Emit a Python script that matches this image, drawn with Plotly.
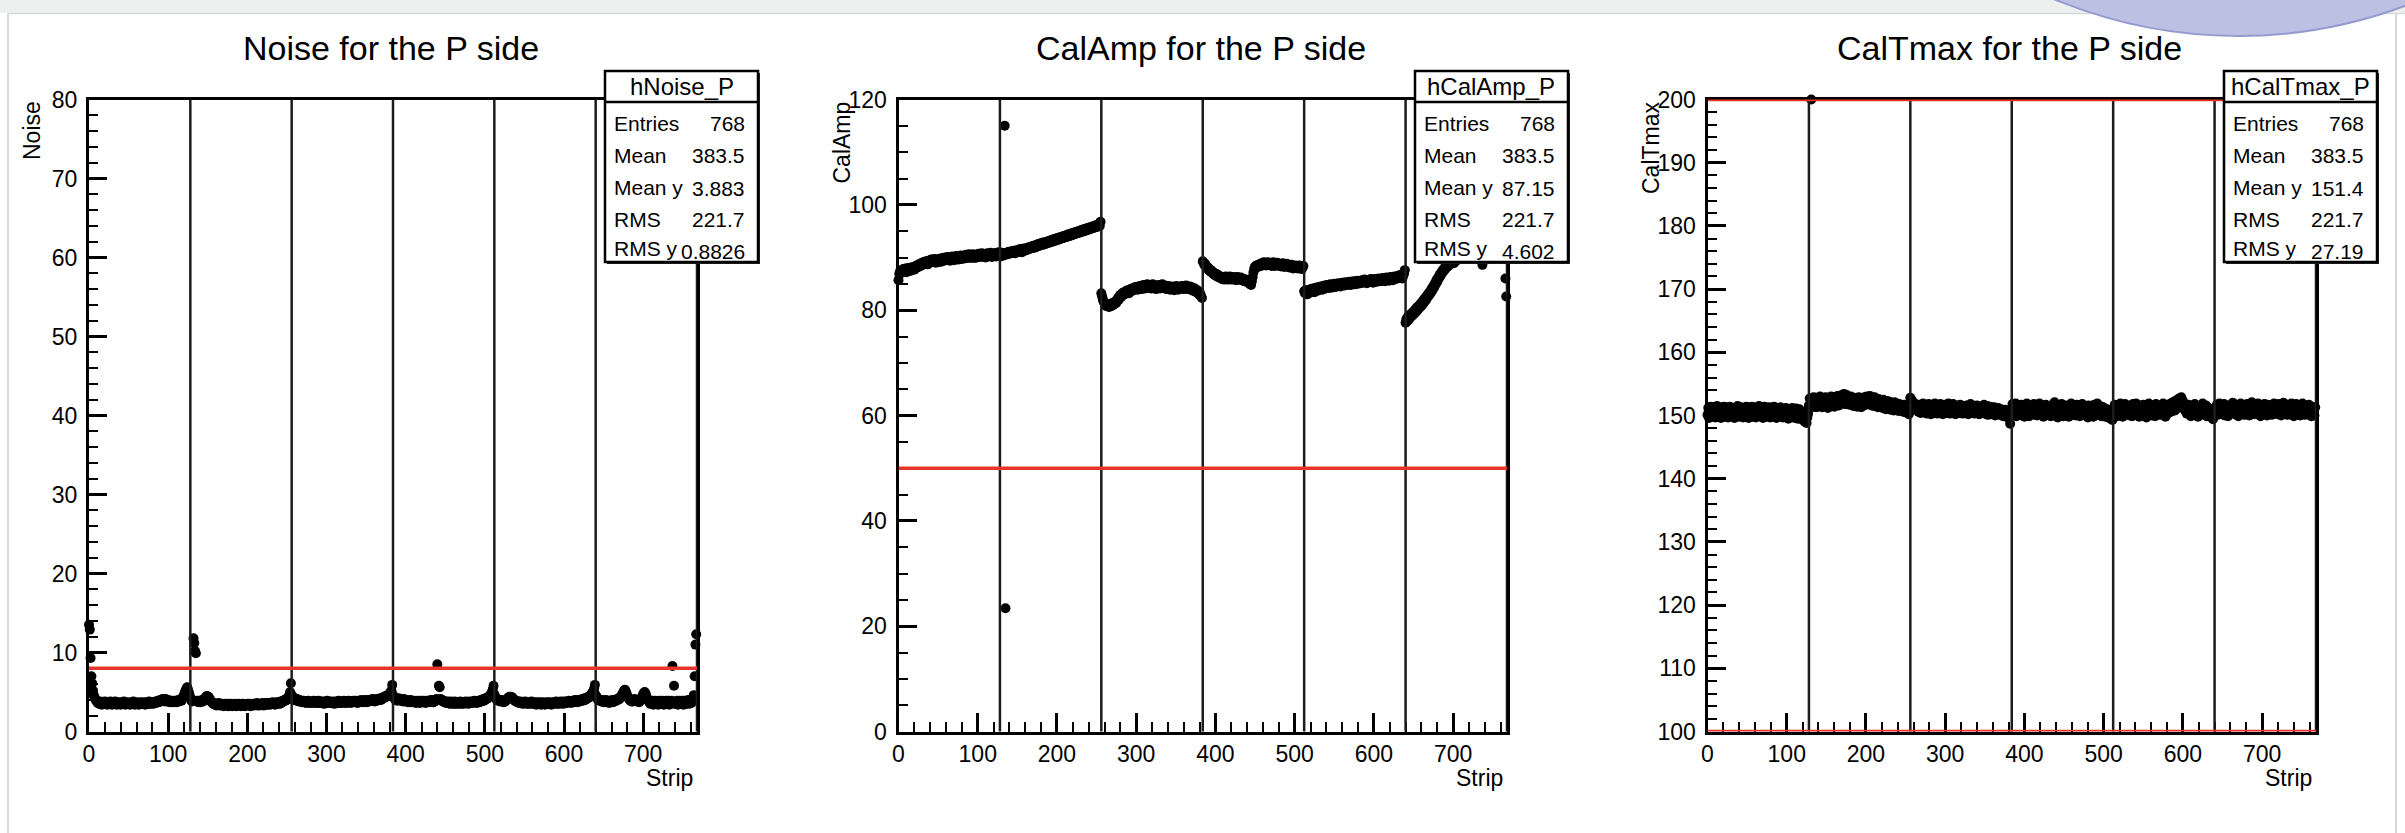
import plotly.graph_objects as go

W, H = 2405, 833
FONT = "Liberation Sans, Arial, Helvetica, sans-serif"

# ---------------------------------------------------------------- data
strips = list(range(768))
chip_edges = [128, 256, 384, 512, 640, 768]

noise = [
    # chip 1
    13.5, 12.9, 9.3, 7.0, 6.1, 5.2, 4.6, 4.3, 4.1, 3.9,
    3.8, 3.6, 3.7, 3.5, 3.8, 3.6, 3.4, 3.7, 3.5, 3.6,
    3.8, 3.5, 3.6, 3.4, 3.7, 3.6, 3.5, 3.8, 3.6, 3.4,
    3.7, 3.5, 3.6, 3.8, 3.5, 3.4, 3.6, 3.7, 3.5, 3.6,
    3.4, 3.7, 3.6, 3.5, 3.8, 3.6, 3.4, 3.5, 3.7, 3.6,
    3.5, 3.6, 3.4, 3.7, 3.5, 3.6, 3.8, 3.5, 3.4, 3.6,
    3.7, 3.5, 3.6, 3.4, 3.6, 3.7, 3.5, 3.6, 3.5, 3.7,
    3.6, 3.4, 3.5, 3.7, 3.6, 3.5, 3.8, 3.6, 3.5, 3.7,
    3.6, 3.5, 3.7, 3.6, 3.8, 3.6, 3.7, 3.9, 3.7, 3.8,
    4.0, 3.8, 3.9, 4.1, 3.9, 4.0, 3.8, 4.1, 3.9, 3.8,
    4.0, 3.9, 3.7, 3.9, 3.8, 3.7, 3.9, 3.8, 3.7, 3.9,
    3.8, 3.7, 3.9, 4.0, 3.8, 4.0, 4.1, 3.9, 4.2, 4.4,
    4.6, 4.9, 5.2, 5.4, 5.6, 5.3, 5.0, 4.6,
    # chip 2
    4.3, 4.0, 3.8, 3.9, 11.8, 11.2, 10.2, 9.9, 3.9, 3.8,
    3.7, 3.9, 3.8, 3.7, 3.9, 4.0, 3.8, 3.9, 4.1, 4.3,
    4.4, 4.5, 4.3, 4.4, 4.2, 4.0, 3.8, 3.7, 3.6, 3.5,
    3.6, 3.4, 3.5, 3.3, 3.5, 3.4, 3.6, 3.3, 3.4, 3.5,
    3.3, 3.4, 3.2, 3.5, 3.3, 3.4, 3.3, 3.5, 3.2, 3.4,
    3.3, 3.5, 3.4, 3.2, 3.3, 3.4, 3.5, 3.3, 3.2, 3.4,
    3.3, 3.5, 3.4, 3.3, 3.2, 3.4, 3.5, 3.3, 3.4, 3.2,
    3.4, 3.3, 3.5, 3.4, 3.3, 3.5, 3.2, 3.4, 3.3, 3.5,
    3.4, 3.3, 3.5, 3.4, 3.6, 3.3, 3.5, 3.4, 3.3, 3.5,
    3.4, 3.6, 3.5, 3.3, 3.5, 3.4, 3.6, 3.5, 3.4, 3.6,
    3.5, 3.4, 3.6, 3.5, 3.7, 3.5, 3.6, 3.4, 3.6, 3.7,
    3.5, 3.6, 3.7, 3.5, 3.8, 3.6, 3.7, 3.9, 3.8, 4.0,
    3.9, 4.1, 4.0, 4.2, 4.3, 4.6, 5.0, 6.1,
    # chip 3
    4.6, 4.3, 4.1, 4.0, 4.2, 4.0, 3.9, 4.1, 3.9, 3.8,
    4.0, 3.8, 3.9, 3.7, 3.8, 3.9, 3.7, 3.8, 3.6, 3.8,
    3.7, 3.9, 3.6, 3.8, 3.7, 3.6, 3.8, 3.7, 3.9, 3.6,
    3.7, 3.8, 3.6, 3.7, 3.9, 3.6, 3.8, 3.7, 3.6, 3.8,
    3.7, 3.5, 3.8, 3.6, 3.7, 3.9, 3.6, 3.7, 3.8, 3.6,
    3.7, 3.6, 3.8, 3.7, 3.5, 3.7, 3.8, 3.6, 3.7, 3.9,
    3.6, 3.8, 3.7, 3.6, 3.8, 3.7, 3.9, 3.6, 3.7, 3.8,
    3.6, 3.7, 3.9, 3.7, 3.8, 3.6, 3.8, 3.7, 3.9, 3.8,
    3.7, 3.9, 3.8, 3.6, 3.8, 3.9, 3.7, 3.8, 4.0, 3.8,
    3.7, 3.9, 3.8, 4.0, 3.9, 3.7, 3.9, 4.0, 3.8, 3.9,
    4.0, 3.9, 4.1, 3.9, 4.0, 3.8, 4.0, 4.1, 3.9, 4.0,
    4.1, 4.0, 4.2, 4.0, 4.1, 4.3, 4.2, 4.4, 4.3, 4.5,
    4.4, 4.6, 4.5, 4.7, 4.8, 5.0, 5.2, 5.9,
    # chip 4
    4.6, 4.3, 4.2, 4.0, 4.1, 3.9, 4.0, 4.2, 4.0, 3.9,
    4.1, 3.9, 4.0, 3.8, 4.1, 3.9, 3.8, 4.0, 3.9, 3.7,
    3.9, 3.8, 4.0, 3.7, 3.9, 3.8, 3.7, 3.9, 3.8, 3.6,
    3.8, 3.9, 3.7, 3.8, 3.6, 3.9, 3.7, 3.8, 3.9, 3.7,
    3.8, 3.6, 3.9, 3.7, 3.8, 3.9, 3.7, 3.8, 4.0, 3.8,
    3.9, 3.7, 4.0, 3.8, 3.9, 4.1, 8.5, 4.0, 5.8, 5.6,
    4.1, 3.9, 4.0, 3.8, 3.9, 3.7, 3.8, 3.6, 3.7, 3.8,
    3.6, 3.7, 3.5, 3.8, 3.6, 3.7, 3.5, 3.6, 3.8, 3.5,
    3.7, 3.6, 3.5, 3.7, 3.6, 3.8, 3.5, 3.7, 3.6, 3.5,
    3.7, 3.6, 3.8, 3.6, 3.7, 3.5, 3.6, 3.8, 3.7, 3.6,
    3.8, 3.6, 3.7, 3.9, 3.7, 3.8, 3.6, 3.8, 3.9, 3.7,
    3.8, 4.0, 3.8, 3.9, 4.1, 3.9, 4.0, 4.2, 4.1, 4.3,
    4.2, 4.4, 4.5, 4.6, 4.8, 5.0, 5.3, 5.8,
    # chip 5
    4.7, 4.4, 4.2, 4.0, 4.1, 3.9, 4.0, 3.8, 3.9, 4.0,
    3.8, 3.9, 3.7, 3.9, 3.8, 4.0, 4.1, 4.2, 4.3, 4.4,
    4.3, 4.4, 4.2, 4.3, 4.1, 4.0, 3.9, 3.8, 3.9, 3.7,
    3.8, 3.6, 3.7, 3.8, 3.6, 3.7, 3.5, 3.7, 3.6, 3.8,
    3.6, 3.5, 3.7, 3.6, 3.5, 3.7, 3.6, 3.8, 3.5, 3.6,
    3.7, 3.5, 3.6, 3.4, 3.7, 3.6, 3.5, 3.7, 3.6, 3.4,
    3.6, 3.7, 3.5, 3.6, 3.4, 3.6, 3.7, 3.5, 3.6, 3.7,
    3.5, 3.6, 3.4, 3.7, 3.6, 3.5, 3.7, 3.6, 3.8, 3.5,
    3.7, 3.6, 3.5, 3.7, 3.8, 3.6, 3.7, 3.5, 3.8, 3.6,
    3.7, 3.8, 3.6, 3.7, 3.9, 3.7, 3.8, 3.6, 3.8, 3.9,
    3.7, 3.8, 4.0, 3.8, 3.9, 3.7, 4.0, 3.9, 3.8, 4.0,
    3.9, 4.1, 3.9, 4.0, 4.2, 4.0, 4.1, 4.3, 4.2, 4.4,
    4.3, 4.5, 4.6, 4.8, 4.9, 5.1, 5.4, 5.9,
    # chip 6
    4.6, 4.4, 4.2, 4.0, 4.1, 3.9, 4.0, 3.8, 4.0, 3.9,
    3.7, 3.9, 3.8, 4.0, 3.7, 3.9, 3.8, 3.6, 3.9, 3.7,
    3.8, 4.0, 3.7, 3.9, 3.8, 4.0, 3.9, 4.1, 4.0, 4.2,
    4.1, 4.3, 4.4, 4.6, 4.8, 5.0, 5.2, 5.3, 5.1, 4.8,
    4.5, 4.3, 4.1, 4.0, 3.9, 3.8, 4.0, 3.8, 3.9, 4.1,
    4.0, 3.9, 3.8, 4.0, 3.9, 3.7, 3.9, 4.1, 4.3, 4.5,
    4.7, 4.9, 5.0, 4.8, 4.5, 4.2, 4.0, 3.8, 3.7, 3.5,
    3.8, 3.6, 3.9, 3.4, 3.7, 3.9, 3.5, 3.8, 3.6, 3.4,
    3.9, 3.6, 3.8, 3.5, 3.9, 3.7, 3.4, 3.8, 3.6, 3.9,
    3.5, 3.7, 3.9, 3.4, 3.8, 3.6, 3.9, 8.3, 3.7, 5.8,
    3.5, 3.8, 3.6, 3.9, 3.4, 3.7, 3.9, 3.5, 3.8, 3.6,
    3.9, 3.4, 3.7, 3.9, 3.5, 3.8, 3.6, 4.0, 3.5, 3.8,
    3.9, 3.6, 4.0, 4.2, 4.6, 7.0, 11.0, 12.3,
]

cal_amp = [
    # chip 1
    85.7, 86.9, 87.4, 87.0, 87.6, 87.2, 87.8, 87.3, 87.5, 87.9,
    87.2, 87.6, 88.0, 87.4, 87.8, 87.5, 88.1, 87.6, 87.9, 88.2,
    87.7, 88.3, 88.0, 88.5, 88.1, 88.6, 88.3, 88.8, 88.4, 88.9,
    88.6, 89.1, 88.7, 89.2, 88.8, 89.3, 89.0, 88.7, 89.4, 89.0,
    89.3, 89.6, 89.1, 89.5, 89.2, 89.7, 89.3, 89.0, 89.6, 89.4,
    89.1, 89.7, 89.4, 89.8, 89.2, 89.6, 89.9, 89.4, 89.7, 90.0,
    89.5, 89.8, 90.1, 89.6, 89.9, 89.4, 90.0, 89.7, 90.2, 89.8,
    89.5, 90.1, 89.8, 90.3, 89.9, 89.6, 90.2, 89.8, 90.0, 90.4,
    89.7, 90.1, 90.3, 89.8, 90.2, 90.5, 89.9, 90.3, 90.0, 90.6,
    90.2, 89.9, 90.4, 90.1, 90.6, 90.2, 89.9, 90.5, 90.3, 90.0,
    90.4, 90.7, 90.1, 90.5, 90.2, 90.8, 90.4, 90.1, 90.6, 90.3,
    90.0, 90.5, 90.8, 90.2, 90.6, 90.3, 90.9, 90.4, 90.1, 90.7,
    90.3, 90.8, 90.5, 90.2, 90.9, 90.4, 90.7, 91.0,
    # chip 2
    90.6, 90.2, 90.9, 90.5, 90.8, 90.4, 115.0, 23.4, 90.9, 90.6,
    90.9, 91.1, 90.7, 91.0, 90.8, 91.2, 90.9, 91.3, 91.0, 90.8,
    91.2, 91.4, 91.0, 91.3, 91.5, 91.1, 91.6, 91.3, 91.0, 91.5,
    91.7, 91.3, 91.6, 91.4, 91.8, 91.5, 91.9, 91.6, 92.0, 91.7,
    91.9, 92.2, 91.8, 92.1, 92.3, 91.9, 92.4, 92.1, 92.5, 92.2,
    92.6, 92.3, 92.5, 92.8, 92.4, 92.7, 92.9, 92.5, 92.8, 93.0,
    92.7, 93.1, 92.8, 93.2, 92.9, 93.3, 93.0, 93.4, 93.1, 93.5,
    93.2, 93.6, 93.3, 93.7, 93.4, 93.8, 93.5, 93.9, 93.6, 94.0,
    93.7, 94.1, 93.8, 94.2, 93.9, 94.3, 94.0, 94.4, 94.1, 94.5,
    94.2, 94.6, 94.3, 94.7, 94.4, 94.8, 94.5, 94.9, 94.6, 95.0,
    94.7, 95.1, 94.8, 95.2, 94.9, 95.3, 95.0, 95.4, 95.1, 95.5,
    95.2, 95.6, 95.3, 95.7, 95.4, 95.8, 95.5, 95.9, 95.6, 96.0,
    95.7, 96.1, 95.8, 96.2, 95.9, 96.4, 96.0, 96.8,
    # chip 3
    83.2, 82.6, 82.0, 81.6, 81.3, 81.0, 80.8, 81.1, 80.7, 80.9,
    80.6, 80.9, 81.2, 80.8, 81.3, 81.0, 81.5, 81.2, 81.7, 81.4,
    81.9, 82.3, 82.0, 82.6, 82.9, 82.5, 83.0, 83.3, 82.9, 83.4,
    83.1, 83.6, 83.3, 83.8, 83.5, 83.2, 83.7, 84.0, 83.6, 83.9,
    84.2, 83.8, 84.1, 84.4, 84.0, 84.3, 83.9, 84.5, 84.2, 84.6,
    84.3, 84.0, 84.5, 84.8, 84.4, 84.1, 84.7, 84.3, 84.9, 84.5,
    84.2, 84.8, 84.4, 84.1, 84.6, 84.9, 84.3, 84.7, 84.4, 84.0,
    84.5, 84.2, 84.8, 84.4, 84.1, 84.6, 84.3, 84.9, 84.5, 84.2,
    84.7, 84.3, 84.0, 84.5, 84.2, 84.6, 84.3, 83.9, 84.4, 84.1,
    84.5, 84.2, 83.8, 84.3, 84.0, 84.6, 84.2, 83.9, 84.4, 84.1,
    84.5, 84.2, 84.6, 84.3, 84.0, 84.5, 84.2, 84.7, 84.3, 84.0,
    84.4, 84.1, 84.5, 84.2, 83.8, 84.3, 84.0, 83.6, 84.1, 83.7,
    83.4, 83.8, 83.2, 83.5, 82.9, 83.1, 82.6, 82.3,
    # chip 4
    89.3, 89.0, 88.6, 88.8, 88.3, 88.0, 88.2, 87.7, 87.9, 87.4,
    87.6, 87.2, 87.4, 86.9, 87.1, 86.7, 86.9, 86.5, 86.8, 86.3,
    86.6, 86.2, 86.4, 86.0, 86.3, 85.9, 86.2, 85.8, 86.1, 86.4,
    85.9, 86.2, 85.8, 86.1, 86.4, 85.9, 86.2, 85.8, 86.0, 86.3,
    85.9, 86.2, 85.7, 86.0, 86.3, 85.8, 86.1, 85.9, 86.2, 85.7,
    86.0, 85.6, 85.9, 85.5, 85.8, 85.4, 85.7, 85.3, 85.6, 85.0,
    85.3, 84.8, 85.5, 86.3, 87.2, 87.9, 88.3, 88.0, 88.5, 88.2,
    88.6, 88.3, 88.7, 88.4, 88.9, 88.5, 88.8, 89.1, 88.6, 88.9,
    88.5, 88.8, 89.1, 88.7, 89.0, 88.6, 88.9, 88.4, 88.8, 89.1,
    88.7, 88.4, 88.9, 88.6, 89.0, 88.5, 88.8, 88.4, 88.7, 88.3,
    88.6, 88.9, 88.5, 88.2, 88.7, 88.4, 88.8, 88.3, 88.6, 88.1,
    88.5, 88.2, 88.6, 88.3, 87.9, 88.4, 88.1, 88.5, 88.0, 88.3,
    87.9, 88.2, 88.5, 88.0, 88.3, 87.8, 88.1, 88.4,
    # chip 5
    83.6, 83.2, 83.8, 83.4, 83.0, 83.5, 83.9, 83.3, 83.7, 84.0,
    83.6, 84.1, 83.8, 83.4, 84.2, 83.9, 84.3, 83.7, 84.1, 84.4,
    84.0, 84.5, 84.2, 83.9, 84.6, 84.3, 84.7, 84.1, 84.5, 84.8,
    84.4, 84.7, 84.2, 84.9, 84.5, 84.8, 84.3, 84.6, 85.0, 84.7,
    84.4, 84.9, 84.6, 85.1, 84.7, 85.0, 84.5, 84.9, 85.2, 84.8,
    85.1, 84.7, 85.3, 84.9, 85.2, 84.8, 85.0, 85.4, 85.1, 84.8,
    85.3, 85.0, 85.5, 85.1, 84.9, 85.4, 85.2, 85.6, 85.0, 85.3,
    85.5, 85.1, 85.4, 85.7, 85.2, 85.5, 85.8, 85.3, 85.6, 85.1,
    85.4, 85.7, 85.3, 85.6, 85.9, 85.4, 85.7, 85.2, 85.6, 85.9,
    85.5, 85.8, 85.4, 85.7, 86.0, 85.6, 85.9, 85.5, 85.8, 86.1,
    85.7, 86.0, 85.5, 85.9, 86.2, 85.8, 86.1, 85.6, 86.0, 86.3,
    85.9, 86.2, 85.7, 86.1, 86.4, 85.9, 86.3, 86.0, 86.5, 86.1,
    86.4, 86.7, 86.2, 86.5, 86.0, 86.6, 86.9, 87.6,
    # chip 6
    77.6, 78.3, 77.9, 78.8, 78.2, 79.0, 78.6, 79.3, 78.9, 79.6,
    79.2, 79.9, 79.5, 80.3, 79.8, 80.6, 80.2, 80.9, 80.5, 81.2,
    80.8, 81.6, 81.2, 82.0, 81.6, 82.4, 82.0, 82.8, 82.5, 83.2,
    82.9, 83.6, 83.3, 84.1, 83.8, 84.6, 84.3, 85.1, 84.9, 85.7,
    85.4, 86.2, 86.0, 86.7, 86.5, 87.2, 87.0, 87.6, 87.4, 88.0,
    87.8, 88.3, 88.1, 88.6, 88.4, 88.9, 88.7, 89.2, 88.9, 89.4,
    89.1, 88.9, 89.6, 89.3, 89.8, 89.5, 90.0, 89.7, 90.2, 89.9,
    90.3, 90.0, 90.5, 90.2, 90.6, 90.3, 90.8, 90.4, 90.9, 90.6,
    91.0, 90.7, 91.1, 90.8, 91.2, 90.9, 91.3, 91.0, 91.4, 91.1,
    91.5, 91.2, 91.6, 91.3, 91.0, 91.5, 91.2, 88.6, 91.4, 91.7,
    91.3, 91.8, 91.5, 91.9, 91.6, 92.0, 91.7, 92.1, 91.8, 92.2,
    91.9, 92.3, 92.0, 92.4, 92.1, 92.5, 92.2, 92.6, 92.3, 92.7,
    92.4, 92.8, 92.5, 92.9, 92.6, 93.0, 86.0, 82.6,
]

cal_tmax = [
    # chip 1
    150.1, 151.2, 149.6, 150.7, 151.4, 150.0, 149.8, 150.9, 151.3, 150.4,
    149.7, 150.6, 151.5, 150.2, 149.9, 151.0, 150.5, 149.6, 151.3, 150.8,
    150.0, 151.4, 149.8, 150.5, 151.1, 150.3, 149.7, 150.9, 151.4, 150.1,
    150.6, 149.9, 151.2, 150.4, 149.6, 151.0, 150.7, 150.0, 151.5, 150.3,
    149.8, 150.8, 151.3, 150.1, 150.6, 149.7, 151.1, 150.4, 149.9, 151.4,
    150.2, 150.9, 149.6, 151.2, 150.5, 150.0, 151.4, 149.8, 150.7, 151.0,
    150.3, 149.7, 151.3, 150.6, 150.0, 151.5, 149.9, 150.8, 151.1, 150.2,
    149.6, 150.9, 151.4, 150.3, 149.8, 151.0, 150.5, 150.1, 151.3, 149.7,
    150.6, 151.2, 150.0, 149.8, 151.4, 150.4, 150.9, 149.6, 151.1, 150.3,
    150.7, 149.9, 151.3, 150.2, 150.8, 149.7, 151.0, 150.5, 149.9, 151.2,
    150.1, 150.6, 149.5, 151.0, 150.3, 149.8, 150.9, 151.2, 149.7, 150.4,
    150.8, 149.6, 151.1, 150.2, 149.5, 150.7, 151.0, 149.8, 150.3, 149.4,
    150.6, 149.2, 150.2, 149.0, 150.4, 148.8, 149.7, 150.3,
    # chip 2
    151.6, 152.7, 151.2, 200.0, 152.4, 151.5, 152.9, 151.9, 152.3, 151.3,
    152.8, 152.0, 151.4, 152.6, 153.0, 151.8, 152.2, 151.3, 152.7, 152.1,
    151.5, 152.9, 151.9, 152.4, 151.2, 152.8, 152.0, 151.6, 153.0, 152.3,
    151.7, 152.5, 151.4, 152.9, 152.2, 151.8, 153.1, 152.4, 151.6, 152.7,
    152.1, 153.2, 151.9, 152.6, 153.4, 152.2, 151.8, 153.3, 152.5, 152.0,
    152.9, 151.7, 152.4, 153.0, 151.9, 152.5, 151.5, 152.8, 152.2, 151.6,
    152.6, 151.4, 152.2, 152.9, 151.8, 152.4, 151.3, 152.7, 152.0, 151.6,
    152.9, 152.2, 151.7, 153.0, 152.4, 151.8, 152.7, 153.1, 152.0, 151.6,
    152.8, 152.3, 151.5, 152.9, 152.1, 151.7, 152.5, 151.3, 152.6, 152.0,
    151.4, 152.4, 151.8, 151.2, 152.5, 151.6, 152.1, 151.0, 152.3, 151.7,
    151.2, 152.2, 151.5, 150.9, 152.0, 151.4, 151.8, 150.8, 152.1, 151.3,
    150.9, 151.9, 151.2, 150.7, 151.8, 151.4, 150.8, 151.6, 151.1, 150.6,
    151.7, 151.0, 150.5, 151.5, 150.9, 151.3, 150.2, 150.8,
    # chip 3
    152.8, 151.9, 152.4, 151.5, 152.0, 151.2, 151.8, 150.9, 151.6, 151.1,
    150.6, 151.7, 151.2, 150.4, 151.5, 150.8, 151.9, 150.5, 151.3, 150.9,
    151.6, 150.3, 151.1, 151.8, 150.6, 151.4, 150.2, 151.7, 150.9, 151.3,
    150.5, 151.9, 150.8, 151.2, 150.3, 151.6, 151.0, 150.4, 151.8, 150.7,
    151.3, 150.2, 151.5, 150.9, 151.7, 150.4, 151.1, 150.6, 151.9, 150.8,
    150.3, 151.4, 151.0, 150.5, 151.8, 150.7, 151.2, 150.2, 151.6, 150.9,
    151.4, 150.4, 151.1, 151.7, 150.6, 151.3, 150.3, 151.5, 150.8, 151.0,
    150.5, 151.6, 150.9, 150.2, 151.4, 150.7, 151.8, 150.4, 151.1, 150.6,
    151.5, 150.3, 151.2, 150.8, 151.6, 150.5, 151.0, 150.2, 151.4, 150.9,
    150.4, 151.3, 150.7, 151.7, 150.3, 151.1, 150.6, 151.5, 150.1, 151.0,
    150.7, 151.4, 150.2, 151.2, 150.5, 150.9, 151.3, 150.0, 151.1, 150.6,
    150.3, 151.2, 150.8, 150.1, 151.0, 150.4, 150.9, 149.9, 150.7, 150.3,
    150.9, 149.8, 150.5, 150.1, 149.6, 150.4, 148.7, 149.9,
    # chip 4
    150.9, 151.8, 150.3, 151.2, 150.6, 151.9, 149.9, 150.8, 151.5, 150.2,
    151.1, 150.5, 151.7, 150.0, 151.4, 150.7, 149.8, 151.2, 150.4, 151.9,
    150.6, 151.3, 149.9, 150.9, 151.6, 150.2, 151.0, 150.5, 151.8, 150.1,
    151.4, 150.7, 150.0, 151.2, 150.4, 151.9, 150.8, 150.2, 151.5, 150.6,
    149.8, 151.1, 150.5, 151.7, 150.1, 150.9, 151.4, 150.3, 151.0, 149.9,
    151.6, 150.6, 151.2, 150.0, 152.1, 150.8, 151.3, 150.4, 149.7, 151.5,
    150.7, 151.0, 150.1, 151.8, 150.5, 149.9, 151.3, 150.8, 151.6, 150.2,
    150.9, 151.4, 149.8, 151.1, 150.4, 151.9, 150.6, 150.1, 151.5, 150.7,
    151.2, 150.0, 151.7, 150.3, 150.9, 151.4, 149.9, 151.1, 150.6, 151.8,
    150.2, 150.8, 151.5, 150.0, 151.2, 150.5, 149.7, 151.6, 150.9, 150.3,
    151.4, 150.6, 151.0, 149.8, 151.7, 150.4, 151.1, 150.1, 151.9, 150.7,
    150.2, 151.3, 150.6, 149.9, 151.4, 150.8, 150.3, 151.2, 149.8, 150.9,
    151.0, 150.4, 149.7, 150.8, 150.2, 149.5, 150.6, 149.3,
    # chip 5
    151.0, 150.3, 151.7, 150.6, 151.2, 149.9, 151.5, 150.8, 150.2, 151.9,
    150.5, 151.1, 149.8, 151.4, 150.7, 151.8, 150.1, 150.9, 151.6, 150.4,
    151.2, 150.0, 151.5, 150.6, 149.9, 151.8, 150.3, 151.1, 150.7, 151.9,
    150.2, 151.3, 150.5, 149.8, 151.6, 150.9, 151.2, 150.1, 151.7, 150.4,
    150.8, 151.5, 149.7, 151.0, 150.6, 151.9, 150.3, 150.9, 151.4, 150.0,
    151.6, 150.5, 151.1, 149.9, 151.8, 150.7, 150.2, 151.3, 150.8, 151.5,
    150.1, 151.0, 150.6, 151.9, 150.3, 151.4, 149.8, 151.2, 150.7, 151.7,
    150.4, 151.1, 151.8, 150.6, 152.0, 150.9, 151.5, 152.2, 150.8, 151.6,
    152.4, 151.2, 151.9, 152.7, 151.4, 152.1, 152.9, 151.6, 152.3, 151.1,
    151.8, 150.7, 151.5, 150.3, 151.2, 151.7, 150.5, 151.0, 149.9, 151.4,
    150.6, 151.1, 150.2, 151.8, 150.4, 150.9, 151.5, 149.8, 151.2, 150.6,
    150.1, 151.3, 150.7, 151.9, 150.3, 151.0, 150.5, 151.6, 149.9, 150.8,
    151.2, 150.2, 150.7, 149.8, 150.9, 150.3, 149.4, 150.6,
    # chip 6
    150.4, 151.3, 150.8, 151.7, 150.1, 151.0, 151.9, 150.5, 151.4, 150.2,
    151.1, 150.7, 151.8, 150.0, 151.5, 150.6, 151.2, 149.9, 151.6, 150.8,
    150.3, 151.4, 150.9, 152.0, 150.5, 151.1, 150.2, 151.7, 150.7, 151.3,
    149.9, 151.5, 150.6, 151.9, 150.4, 151.0, 150.8, 151.6, 150.1, 151.2,
    150.7, 151.8, 150.3, 151.4, 150.0, 151.1, 150.9, 152.1, 150.5, 151.3,
    150.2, 151.6, 150.8, 151.0, 150.4, 151.9, 150.6, 151.2, 149.9, 151.5,
    150.7, 151.1, 150.3, 151.8, 150.5, 151.4, 150.0, 151.7, 150.9, 151.2,
    150.4, 151.6, 150.1, 151.0, 150.8, 151.9, 150.3, 151.3, 150.6, 151.5,
    150.2, 151.8, 150.7, 151.1, 150.0, 151.4, 150.9, 152.0, 150.4, 151.2,
    150.6, 151.7, 150.1, 151.3, 150.8, 151.5, 150.3, 151.9, 150.5, 151.0,
    149.9, 151.4, 150.7, 151.8, 150.2, 151.1, 150.6, 151.6, 150.0, 151.3,
    150.8, 151.9, 150.4, 151.0, 150.1, 151.5, 150.7, 151.2, 150.3, 151.7,
    150.5, 151.1, 149.9, 151.4, 150.6, 150.9, 150.0, 151.3,
]

for series in (noise, cal_amp, cal_tmax):
    assert len(series) == len(strips), len(series)

titles = ["Noise for the P side", "CalAmp for the P side", "CalTmax for the P side"]
y_titles = ["Noise", "CalAmp", "CalTmax"]
hist_names = ["hNoise_P", "hCalAmp_P", "hCalTmax_P"]
y_ranges = [[0, 80], [0, 120], [100, 200]]
y_major = [10, 20, 10]
y_minor = [2, 5, 2]
cut_levels = [[8], [50], [100, 200]]

stat_labels = ["Entries", "Mean", "Mean y", "RMS", "RMS y"]
stat_values = [
    ["768", "383.5", "3.883", "221.7", "0.8826"],
    ["768", "383.5", "87.15", "221.7", "4.602"],
    ["768", "383.5", "151.4", "221.7", "27.19"],
]

# ---------------------------------------------------------------- geometry (pixels)
frame_left = [89, 898.5, 1707.5]
frame_right = [697, 1507, 2316]
frame_top, frame_bottom = 99.5, 731.5
ytitle_x = [32, 842, 1651]
stat_rows_y = [123, 155, 187, 219, 249]


def px(x):
    return x / W


def py(y):
    return 1 - y / H


fig = go.Figure()
shapes = []
annotations = []
layout_axes = {}

for k in range(3):
    sfx = "" if k == 0 else str(k + 1)
    xa, ya = "x" + sfx, "y" + sfx
    values = [noise, cal_amp, cal_tmax][k]

    fig.add_trace(go.Scatter(
        x=strips, y=values, mode="markers",
        marker=dict(size=10, color="black", line=dict(width=0)),
        xaxis=xa, yaxis=ya, cliponaxis=False,
        hoverinfo="skip", showlegend=False,
    ))

    tick_font = dict(family=FONT, size=23, color="black")
    layout_axes["xaxis" + sfx] = dict(
        domain=[px(frame_left[k]), px(frame_right[k])],
        range=[0, 768], anchor=ya, automargin=False,
        showline=True, linewidth=3, linecolor="black", mirror=True,
        ticks="inside", ticklen=19, tickwidth=2.5, tickcolor="black",
        tick0=0, dtick=100,
        minor=dict(ticks="inside", ticklen=10, tickwidth=2, tickcolor="black", dtick=20),
        showgrid=False, zeroline=False, tickfont=tick_font, fixedrange=True,
    )
    layout_axes["yaxis" + sfx] = dict(
        domain=[py(frame_bottom), py(frame_top)],
        range=y_ranges[k], anchor=xa, automargin=False,
        showline=True, linewidth=3, linecolor="black", mirror=True,
        ticks="inside", ticklen=18, tickwidth=2.5, tickcolor="black",
        tick0=y_ranges[k][0], dtick=y_major[k],
        minor=dict(ticks="inside", ticklen=9, tickwidth=2, tickcolor="black", dtick=y_minor[k]),
        showgrid=False, zeroline=False, tickfont=tick_font, fixedrange=True,
        ticklabelstandoff=4,
    )

    # chip boundaries
    for edge in chip_edges:
        shapes.append(dict(
            type="line", xref=xa, yref=ya + " domain",
            x0=edge, x1=edge, y0=0, y1=1,
            line=dict(color="#1c1c1c", width=2.5), layer="above",
        ))
    # threshold lines
    for level in cut_levels[k]:
        shapes.append(dict(
            type="line", xref=xa, yref=ya,
            x0=0, x1=768, y0=level, y1=level,
            line=dict(color="#e8352c", width=3.5), layer="above",
        ))

    # statistics box
    bl, br = frame_right[k] - 92, frame_right[k] + 61
    bt, bb = 71, 262
    shapes.append(dict(
        type="rect", xref="paper", yref="paper",
        x0=px(bl + 2), x1=px(br + 2), y0=py(bb + 2), y1=py(bt + 2),
        fillcolor="#222222", line=dict(width=0), layer="above",
    ))
    shapes.append(dict(
        type="rect", xref="paper", yref="paper",
        x0=px(bl), x1=px(br), y0=py(bb), y1=py(bt),
        fillcolor="white", line=dict(color="black", width=2.5), layer="above",
    ))
    shapes.append(dict(
        type="line", xref="paper", yref="paper",
        x0=px(bl), x1=px(br), y0=py(102), y1=py(102),
        line=dict(color="black", width=2.5), layer="above",
    ))
    annotations.append(dict(
        text=hist_names[k], xref="paper", yref="paper",
        x=px((bl + br) / 2), y=py(87), xanchor="center", yanchor="middle",
        showarrow=False, font=dict(family=FONT, size=24, color="black"),
    ))
    for label, value, ry in zip(stat_labels, stat_values[k], stat_rows_y):
        annotations.append(dict(
            text=label, xref="paper", yref="paper",
            x=px(bl + 7), y=py(ry), xanchor="left", yanchor="middle",
            showarrow=False, font=dict(family=FONT, size=21, color="black"),
        ))
        annotations.append(dict(
            text=value, xref="paper", yref="paper",
            x=px(br - 11), y=py(ry + (2 if label.endswith("y") else 0)),
            xanchor="right", yanchor="middle",
            showarrow=False, font=dict(family=FONT, size=21, color="black"),
        ))

    # panel title and axis titles
    annotations.append(dict(
        text=titles[k], xref="paper", yref="paper",
        x=px((frame_left[k] + frame_right[k]) / 2 - 2), y=py(48),
        xanchor="center", yanchor="middle", showarrow=False,
        font=dict(family=FONT, size=34, color="black"),
    ))
    annotations.append(dict(
        text=y_titles[k], xref="paper", yref="paper", textangle=-90,
        x=px(ytitle_x[k]), y=py(frame_top), xanchor="center", yanchor="top",
        showarrow=False, font=dict(family=FONT, size=23, color="black"),
    ))
    annotations.append(dict(
        text="Strip", xref="paper", yref="paper",
        x=px(frame_right[k] - 2), y=py(778), xanchor="right", yanchor="middle",
        showarrow=False, font=dict(family=FONT, size=23, color="black"),
    ))

# slide frame around the canvas
decor = [
    dict(type="rect", xref="paper", yref="paper", x0=0, x1=1, y0=py(13), y1=1,
         fillcolor="#eef0f0", line=dict(width=0), layer="below"),
    dict(type="line", xref="paper", yref="paper", x0=px(8), x1=1, y0=py(13.5), y1=py(13.5),
         line=dict(color="#d6dada", width=1.5), layer="below"),
    dict(type="line", xref="paper", yref="paper", x0=px(8), x1=px(8), y0=0, y1=py(13.5),
         line=dict(color="#d6dada", width=2), layer="below"),
    dict(type="line", xref="paper", yref="paper", x0=px(2396), x1=px(2396), y0=0, y1=py(13.5),
         line=dict(color="#d6dada", width=2), layer="below"),
    dict(type="circle", xref="paper", yref="paper",
         x0=px(2238 - 478), x1=px(2238 + 478), y0=py(36), y1=py(-442 - 478),
         fillcolor="#bcc1e4", line=dict(color="#959bcf", width=2), layer="below"),
]

fig.update_layout(
    width=W, height=H,
    margin=dict(l=0, r=0, t=0, b=0, pad=0, autoexpand=False),
    paper_bgcolor="white", plot_bgcolor="white",
    showlegend=False,
    shapes=decor + shapes,
    annotations=annotations,
    **layout_axes,
)

fig.write_html("out.html")
